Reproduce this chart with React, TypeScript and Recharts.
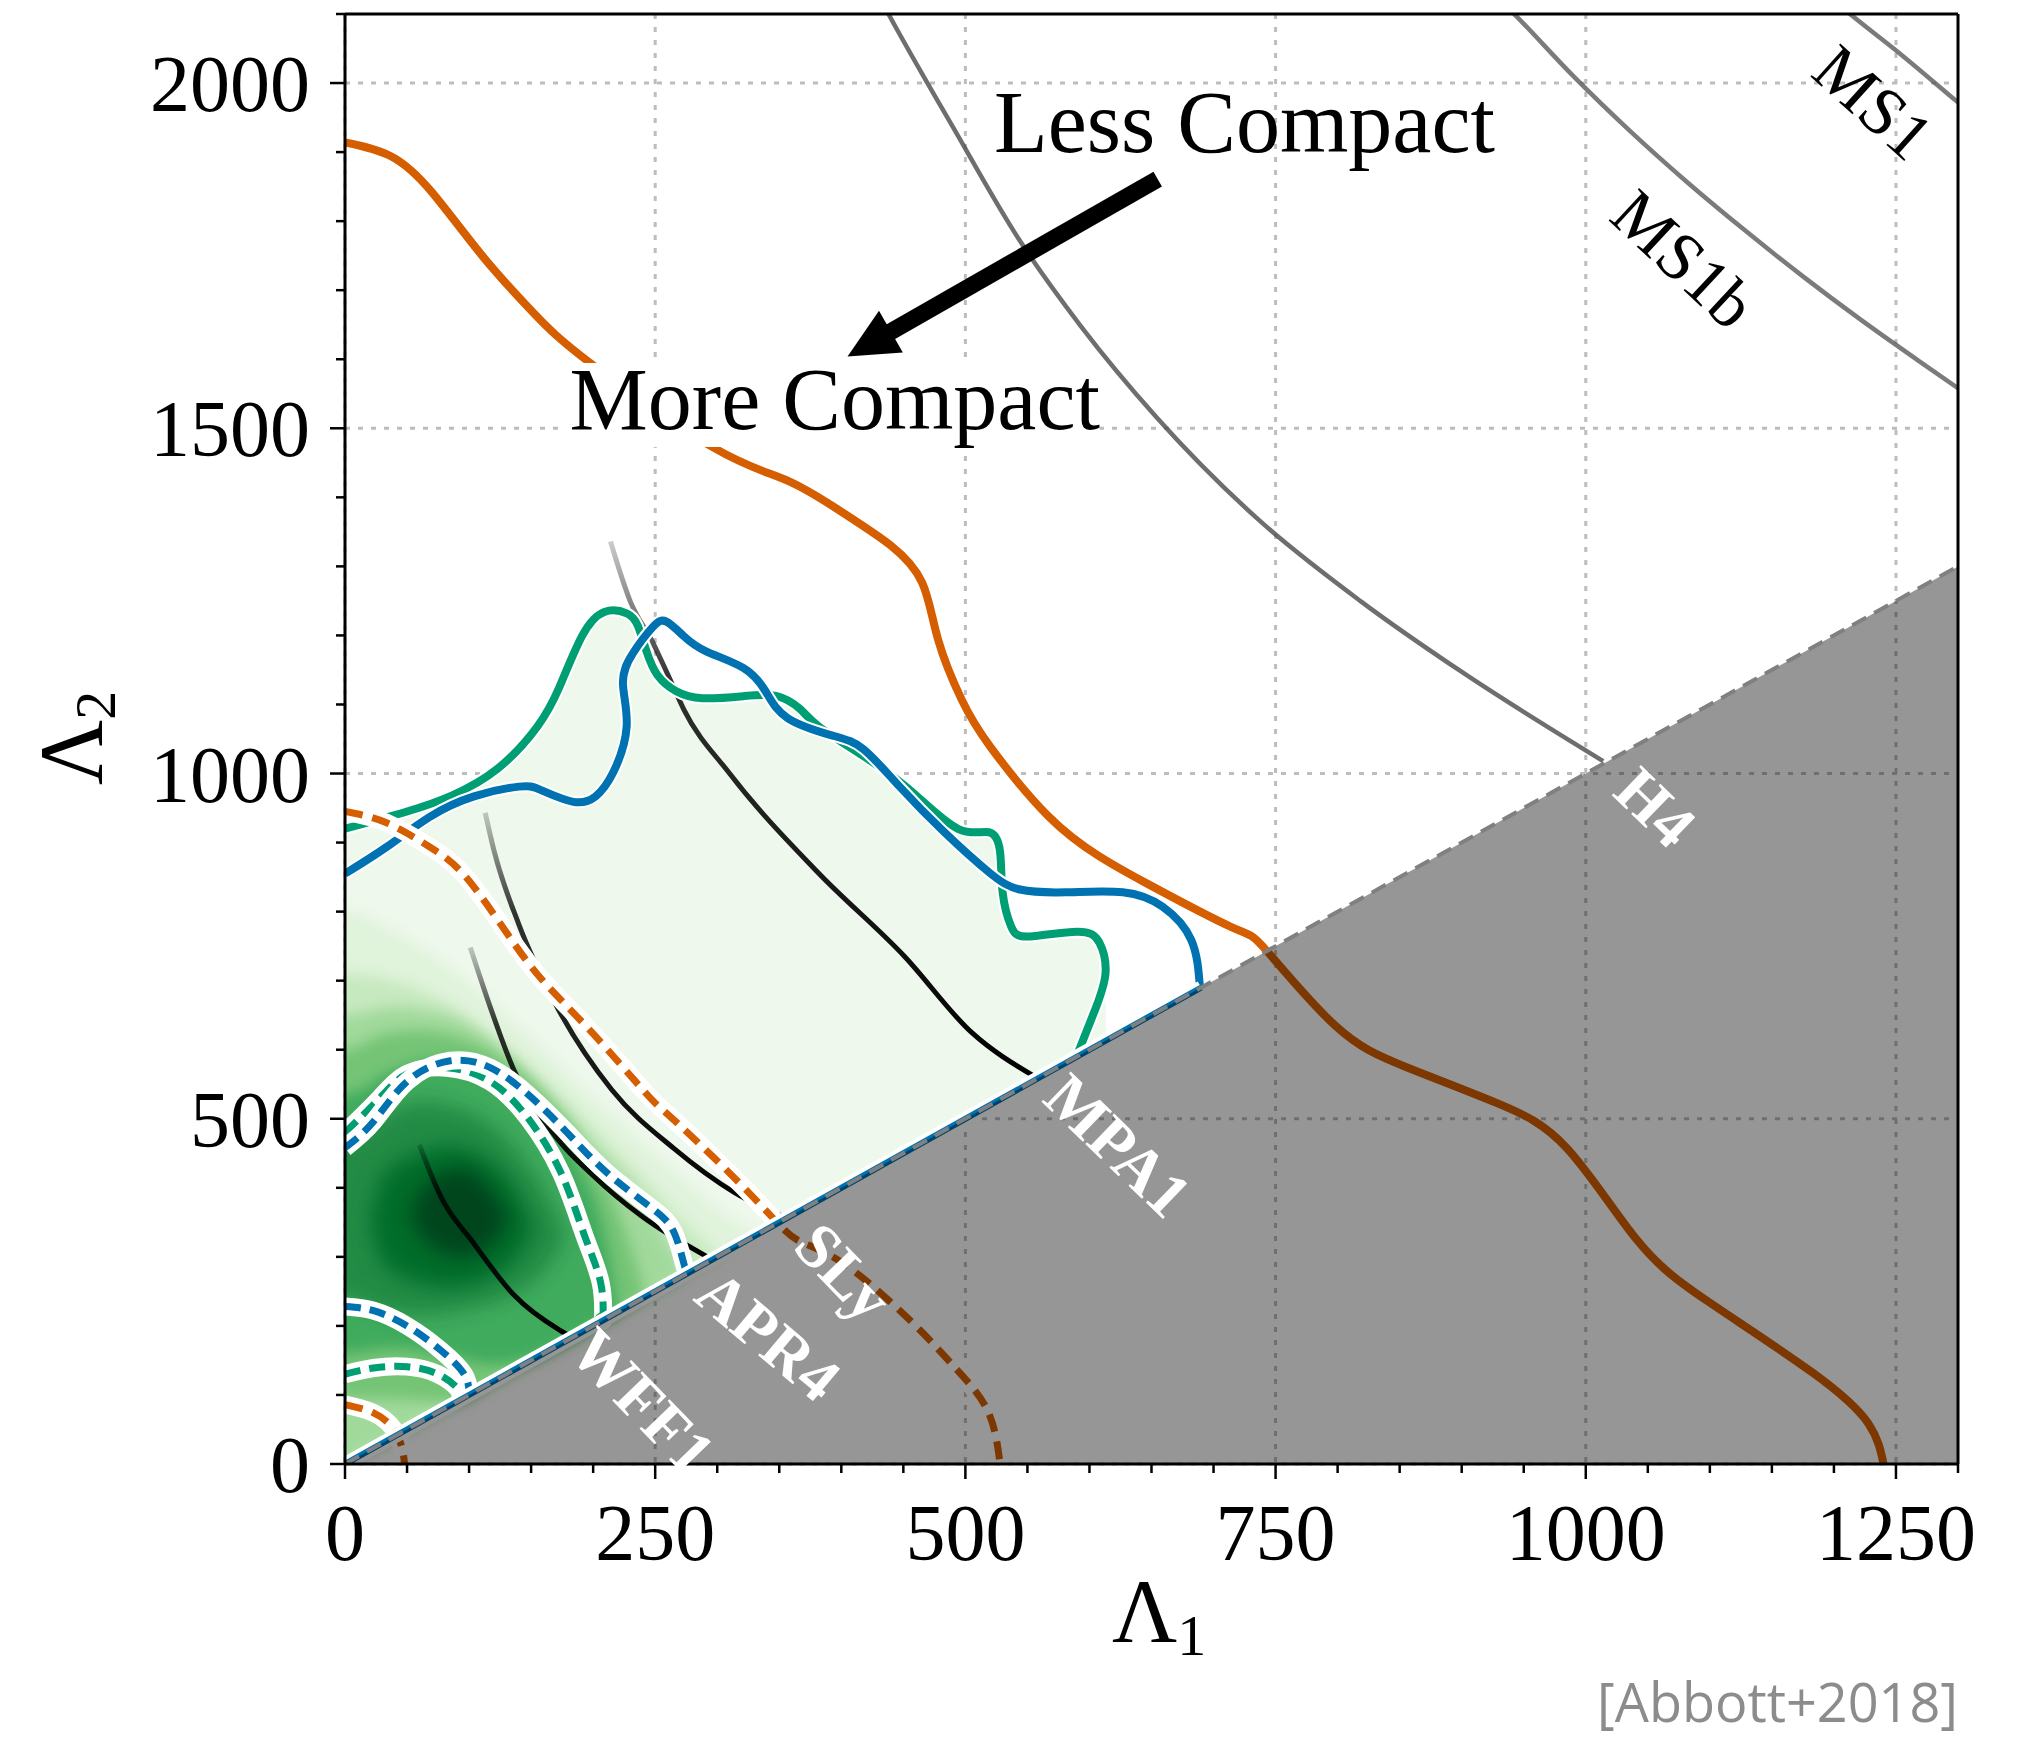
import React from 'react';
import {
  ComposedChart,
  Area,
  Line,
  XAxis,
  YAxis,
  CartesianGrid,
  ReferenceDot,
  ReferenceLine,
} from 'recharts';

type Pt = [number, number];
type Band = [number, number, number];

const W = 2025;
const H = 1740;
const SERIF = '"Liberation Serif", "Times New Roman", serif';

const ORANGE = '#D55E00';
const BLUE = '#0072B2';
const GREEN = '#009E73';

// axis ticks
const xTicks = [0, 250, 500, 750, 1000, 1250];
const yTicks = [0, 500, 1000, 1500, 2000];
const xMinorTicks = [0, 50, 100, 150, 200, 250, 300, 350, 400, 450, 500, 550, 600, 650, 700, 750, 800, 850, 900, 950, 1000, 1050, 1100, 1150, 1200, 1250, 1300];
const yMinorTicks = [0, 100, 200, 300, 400, 500, 600, 700, 800, 900, 1000, 1100, 1200, 1300, 1400, 1500, 1600, 1700, 1800, 1900, 2000, 2100];

// 90% contours (solid)
const orangeOuter: Pt[] = [
  [0, 1914], [37, 1894], [70, 1842], [111, 1749], [152, 1667], [198, 1594], [297, 1472],
  [358, 1423], [407, 1371], [440, 1330], [465, 1277], [478, 1194], [497, 1107], [520, 1039],
  [567, 938], [608, 880], [645, 842], [714, 778], [742, 745], [798, 635], [855, 575],
  [928, 523], [985, 457], [1041, 325], [1098, 236], [1183, 132], [1228, 58], [1240, 0],
];
const greenOuter: Pt[] = [
  [0, 920], [50, 945], [86, 968], [123, 1007], [155, 1068], [173, 1126], [191, 1199],
  [209, 1234], [227, 1232], [236, 1214], [243, 1177], [252, 1142], [267, 1119], [288, 1109],
  [321, 1112], [348, 1112], [367, 1093], [382, 1068], [418, 1025], [456, 975], [494, 920],
  [519, 915], [528, 886], [530, 828], [537, 778], [552, 764], [590, 771], [608, 755],
  [613, 712], [605, 660], [590, 592],
];
const blueOuter: Pt[] = [
  [0, 855], [33, 893], [68, 937], [104, 967], [140, 981], [158, 976], [184, 959], [202, 967],
  [216, 1001], [227, 1068], [224, 1131], [232, 1174], [248, 1212], [259, 1220], [273, 1199],
  [291, 1177], [321, 1153], [339, 1119], [357, 1080], [393, 1055], [418, 1035], [447, 981],
  [483, 915], [519, 857], [544, 832], [581, 828], [627, 828], [659, 807], [682, 759], [689, 691],
];
const blueEdge: Pt[] = [[0, 0], [690, 690]];

// 50% contours (dashed)
const orangeInner: Pt[] = [
  [0, 945], [33, 929], [68, 894], [97, 851], [130, 770], [159, 701], [199, 625], [242, 538],
  [261, 505], [305, 430], [344, 358], [366, 323], [402, 290], [456, 207], [492, 139],
  [518, 77], [528, 0],
];
const orangeSmall: Pt[] = [[0, 86], [23, 74], [39, 51], [46, 23], [48, 0]];
const blueInner: Pt[] = [
  [0, 458], [23, 496], [50, 554], [85, 584], [117, 574], [147, 536], [179, 480], [211, 422],
  [247, 371], [265, 336], [273, 291], [276, 276],
];
const greenInner: Pt[] = [
  [0, 480], [28, 530], [50, 565], [82, 574], [117, 554], [147, 502], [174, 422], [193, 331],
  [206, 263], [208, 215], [208, 208],
];
const blueSmall: Pt[] = [[0, 228], [23, 222], [50, 200], [77, 165], [96, 130], [100, 103]];
const greenSmall: Pt[] = [[0, 130], [23, 139], [50, 141], [75, 130], [91, 109], [93, 95]];

// EOS curves
const ms1: Pt[] = [[1180, 2150], [1215, 2097], [1255, 2040], [1300, 1972], [1360, 1885]];
const ms1b: Pt[] = [
  [920, 2140], [944, 2097], [990, 2010], [1036, 1930], [1082, 1856], [1128, 1787],
  [1175, 1720], [1221, 1658], [1268, 1598], [1300, 1558], [1360, 1486],
];
const h4: Pt[] = [
  [426, 2140], [438, 2100], [490, 1936], [543, 1774], [593, 1648], [654, 1516], [736, 1368],
  [819, 1249], [901, 1146], [1014, 1018],
];
const mpa1: Pt[] = [
  [214, 1336], [230, 1249], [248, 1190], [262, 1136], [273, 1093], [310, 1000], [381, 857],
  [451, 735], [505, 625], [555, 562],
];
const sly: Pt[] = [[113, 943], [120, 889], [140, 782], [168, 672], [215, 542], [265, 457], [314, 393], [355, 357]];
const apr4: Pt[] = [[101, 748], [117, 662], [136, 571], [163, 490], [201, 416], [239, 359], [292, 300]];
const wff1: Pt[] = [[60, 462], [77, 388], [104, 319], [136, 245], [173, 194], [183, 184]];

// posterior density levels: [Λ1, low, high] (first row sits just left of the frame)
const level2: Band[] = [
  [-40, -40, 800], [0, 0, 800], [40, 40, 770], [80, 80, 725], [120, 120, 665], [160, 160, 600],
  [200, 200, 530], [240, 240, 465], [280, 280, 400], [320, 320, 345], [335, 335, 335],
];
const level3: Band[] = [
  [-40, -40, 710], [0, 0, 710], [40, 40, 700], [80, 80, 670], [120, 120, 618], [160, 160, 558],
  [200, 200, 488], [240, 240, 415], [280, 280, 338], [302, 302, 302],
];
const level4: Band[] = [
  [-40, -40, 650], [0, 0, 650], [40, 40, 662], [80, 80, 652], [120, 120, 610], [160, 160, 540],
  [200, 200, 462], [240, 240, 382], [265, 265, 305], [274, 274, 274],
];
const level5: Band[] = [
  [-40, 95, 600], [0, 95, 600], [30, 95, 622], [60, 92, 628], [90, 90, 620], [120, 120, 595],
  [160, 160, 535], [190, 190, 468], [215, 215, 388], [232, 232, 305], [242, 242, 242],
];
const level6: Band[] = [
  [-40, 160, 535], [0, 160, 535], [40, 168, 570], [80, 158, 586], [120, 145, 566],
  [160, 160, 505], [190, 190, 425], [210, 210, 325], [220, 220, 220],
];
const level7: Band[] = [
  [-40, 240, 470], [0, 240, 470], [30, 220, 505], [60, 215, 525], [100, 225, 510],
  [140, 250, 450], [165, 290, 380], [178, 330, 330],
];
const level8: Band[] = [
  [20, 350, 350], [30, 292, 415], [55, 265, 448], [85, 255, 460], [115, 268, 440],
  [138, 298, 395], [152, 340, 340],
];
const level9: Band[] = [[52, 362, 362], [68, 318, 410], [95, 300, 428], [116, 315, 400], [132, 356, 356]];

// excluded region boundary Λ2 = Λ1
const boundary: Pt[] = [[0, 0], [1300, 1300]];

// annotations
const arrowFrom: Pt = [655, 1861];
const arrowTo: Pt = [405, 1604];
const lessAt: Pt = [523, 1900];
const moreAt: Pt = [181, 1499];
const eosLabels: { name: string; at: Pt; angle: number; white: boolean }[] = [
  { name: 'MS1', at: [1232, 1972], angle: 42, white: false },
  { name: 'MS1b', at: [1079, 1745], angle: 43, white: false },
  { name: 'H4', at: [1056, 951], angle: 44, white: true },
  { name: 'MPA1', at: [623, 461], angle: 44, white: true },
  { name: 'SLy', at: [402, 278], angle: 46, white: true },
  { name: 'APR4', at: [341, 186], angle: 40, white: true },
  { name: 'WFF1', at: [240, 91], angle: 46, white: true },
];

const rows = (pts: Pt[]) => pts.map(([x, y]) => ({ x, y }));
const bands = (b: Band[]) => b.map(([x, lo, hi]) => ({ x, band: [lo, hi] }));
const paleFill = greenOuter.slice(0, 29).map(([x, y]) => ({ x, band: [x, y] }));
const greyFill = boundary.map(([x, y]) => ({ x, band: [0, y] }));
const diagRows = rows(blueEdge);

const common = { isAnimationActive: false, dot: false, activeDot: false, legendType: 'none' as const };

function densityArea(key: string, data: any[], fill: string, blur: string | null) {
  return (
    <Area
      key={key}
      data={data}
      dataKey="band"
      type="monotone"
      stroke="none"
      fill={fill}
      fillOpacity={1}
      filter={blur ? `url(#${blur})` : undefined}
      zIndex={100}
      {...common}
    />
  );
}

function contour(key: string, pts: Pt[], color: string, dashed: string | null, halo: number) {
  const d = rows(pts);
  const out = [];
  if (halo > 0) {
    out.push(
      <Line key={key + '-h'} data={d} dataKey="y" type="natural" stroke="#fff" strokeWidth={halo} zIndex={300} {...common} />,
    );
  }
  out.push(
    <Line
      key={key}
      data={d}
      dataKey="y"
      type="natural"
      stroke={color}
      strokeWidth={dashed ? 7 : 8}
      strokeDasharray={dashed ?? undefined}
      zIndex={300}
      {...common}
    />,
  );
  return out;
}

function eosLine(key: string, pts: Pt[], stroke: string, width: number, opacity = 1) {
  return (
    <Line
      key={key}
      data={rows(pts)}
      dataKey="y"
      type="monotone"
      stroke={stroke}
      strokeWidth={width}
      strokeOpacity={opacity}
      zIndex={200}
      {...common}
    />
  );
}

function Arrow(p: any) {
  const { x1, y1, x2, y2 } = p;
  const len = Math.hypot(x2 - x1, y2 - y1);
  const ux = (x2 - x1) / len;
  const uy = (y2 - y1) / len;
  const head = 50;
  const half = 24;
  const bx = x2 - ux * head;
  const by = y2 - uy * head;
  return (
    <g>
      <line x1={x1} y1={y1} x2={bx + ux * 4} y2={by + uy * 4} stroke="#000" strokeWidth={17} />
      <polygon
        points={`${x2},${y2} ${bx - uy * half},${by + ux * half} ${bx + uy * half},${by - ux * half}`}
        fill="#000"
      />
    </g>
  );
}

function XTick(p: any) {
  const { x, y, payload } = p;
  const major = xTicks.includes(payload.value);
  return (
    <g>
      <line x1={x} x2={x} y1={y} y2={y + (major ? 15 : 9)} stroke="#000" strokeWidth={2.5} />
      {major && (
        <text x={x} y={y + 39} dy="0.71em" textAnchor="middle" fontFamily={SERIF} fontSize={80} fill="#000">
          {payload.value}
        </text>
      )}
    </g>
  );
}

function YTick(p: any) {
  const { x, y, payload } = p;
  const major = yTicks.includes(payload.value);
  return (
    <g>
      <line x1={x} x2={x - (major ? 15 : 9)} y1={y} y2={y} stroke="#000" strokeWidth={2.5} />
      {major && (
        <text x={x - 35} y={y} dy="0.35em" textAnchor="end" fontFamily={SERIF} fontSize={80} fill="#000">
          {payload.value}
        </text>
      )}
    </g>
  );
}

export default function App() {
  return (
    <div style={{ position: 'absolute', left: 0, top: 0, width: W, height: H, background: '#fff' }}>
      <ComposedChart width={W} height={H} margin={{ top: 12, right: 65, bottom: 216, left: 285 }}>
        <defs>
          <filter id="soft" x="-20%" y="-20%" width="140%" height="140%">
            <feGaussianBlur stdDeviation="10" />
          </filter>
          <filter id="soft2" x="-10%" y="-10%" width="120%" height="120%">
            <feGaussianBlur stdDeviation="7" />
          </filter>
          <linearGradient id="fade" x1="0" y1="0" x2="0" y2="1">
            <stop offset="0" stopColor="#000" stopOpacity={0.2} />
            <stop offset="0.25" stopColor="#000" stopOpacity={0.8} />
            <stop offset="1" stopColor="#000" stopOpacity={1} />
          </linearGradient>
        </defs>
        <CartesianGrid
          stroke="#bdbdbd"
          strokeWidth={3}
          strokeDasharray="5 8"
          verticalValues={xTicks}
          horizontalValues={yTicks}
        />
        <XAxis
          type="number"
          dataKey="x"
          domain={[0, 1300]}
          ticks={xMinorTicks}
          allowDataOverflow
          height={60}
          interval={0}
          tick={(p: any) => <XTick {...p} />}
          tickSize={0}
          tickMargin={0}
          tickLine={false}
          axisLine={{ stroke: '#000', strokeWidth: 3 }}
        />
        <XAxis
          xAxisId="top"
          orientation="top"
          type="number"
          dataKey="x"
          domain={[0, 1300]}
          height={2}
          tick={false}
          tickLine={false}
          axisLine={{ stroke: '#000', strokeWidth: 3 }}
        />
        <YAxis
          type="number"
          domain={[0, 2100]}
          ticks={yMinorTicks}
          allowDataOverflow
          width={60}
          interval={0}
          tick={(p: any) => <YTick {...p} />}
          tickSize={0}
          tickMargin={0}
          tickLine={false}
          axisLine={{ stroke: '#000', strokeWidth: 3 }}
        />
        <YAxis
          yAxisId="right"
          orientation="right"
          type="number"
          domain={[0, 2100]}
          width={2}
          tick={false}
          tickLine={false}
          axisLine={{ stroke: '#000', strokeWidth: 3 }}
        />

        {densityArea('d1', paleFill, '#eef8ec', null)}
        {densityArea('d2', bands(level2), '#e0f3db', 'soft2')}
        {densityArea('d3', bands(level3), '#c7e9c0', 'soft2')}
        {densityArea('d4', bands(level4), '#a1d99b', 'soft2')}
        {densityArea('d5', bands(level5), '#74c476', 'soft2')}
        {densityArea('d6', bands(level6), '#41ab5d', 'soft2')}
        {densityArea('d7', bands(level7), '#238b45', 'soft')}
        {densityArea('d8', bands(level8), '#006d2c', 'soft')}
        {densityArea('d9', bands(level9), '#00441b', 'soft')}

        {eosLine('ms1', ms1, '#5a5a5a', 4.5, 0.8)}
        {eosLine('ms1b', ms1b, '#5a5a5a', 4.5, 0.8)}
        {eosLine('h4', h4, '#4a4a4a', 4.5, 0.8)}
        {eosLine('mpa1', mpa1, 'url(#fade) #111', 5)}
        {eosLine('sly', sly, 'url(#fade) #111', 5)}
        {eosLine('apr4', apr4, 'url(#fade) #111', 5)}
        {eosLine('wff1', wff1, 'url(#fade) #111', 5)}

        {contour('go', greenOuter, GREEN, null, 12)}
        {contour('bo', blueOuter, BLUE, null, 12)}
        {contour('oo', orangeOuter, ORANGE, null, 0)}
        {contour('oi', orangeInner, ORANGE, '18 10', 18)}
        {contour('os', orangeSmall, ORANGE, '18 10', 18)}
        {contour('gi', greenInner, GREEN, '16 9', 18)}
        {contour('bi', blueInner, BLUE, '16 9', 18)}
        {contour('gs', greenSmall, GREEN, '16 9', 18)}
        {contour('bs', blueSmall, BLUE, '16 9', 18)}
        <Line data={diagRows} dataKey="y" type="linear" stroke="#fff" strokeWidth={14} zIndex={320} {...common} />
        <Line data={diagRows} dataKey="y" type="linear" stroke={BLUE} strokeWidth={6} zIndex={320} {...common} />

        <Area
          data={greyFill}
          dataKey="band"
          type="linear"
          stroke="none"
          fill="#000"
          fillOpacity={0.41}
          zIndex={350}
          {...common}
        />
        <Line
          data={rows(boundary)}
          dataKey="y"
          type="linear"
          stroke="#808080"
          strokeWidth={4}
          strokeDasharray="16 9"
          zIndex={360}
          {...common}
        />

        {eosLabels.map((l) => (
          <ReferenceDot
            key={l.name}
            x={l.at[0]}
            y={l.at[1]}
            r={0}
            zIndex={700}
            shape={(p: any) => (
              <text
                x={p.cx}
                y={p.cy}
                transform={`rotate(${l.angle} ${p.cx} ${p.cy})`}
                textAnchor="middle"
                dominantBaseline="central"
                fontFamily={SERIF}
                fontSize={l.white ? 64 : 68}
                fontWeight={l.white ? 700 : 400}
                fill={l.white ? '#fff' : '#000'}
              >
                {l.name}
              </text>
            )}
          />
        ))}
        <ReferenceDot
          x={lessAt[0]}
          y={lessAt[1]}
          r={0}
          zIndex={700}
          shape={(p: any) => (
            <text x={p.cx} y={p.cy} fontFamily={SERIF} fontSize={88} fill="#000">
              Less Compact
            </text>
          )}
        />
        <ReferenceDot
          x={moreAt[0]}
          y={moreAt[1]}
          r={0}
          zIndex={700}
          shape={(p: any) => (
            <g>
              <rect x={p.cx - 4} y={p.cy - 66} width={534} height={84} fill="#fff" />
              <text x={p.cx} y={p.cy} fontFamily={SERIF} fontSize={88} fill="#000">
                More Compact
              </text>
            </g>
          )}
        />
        <ReferenceLine
          segment={[
            { x: arrowFrom[0], y: arrowFrom[1] },
            { x: arrowTo[0], y: arrowTo[1] },
          ]}
          zIndex={700}
          shape={(p: any) => <Arrow {...p} />}
        />
      </ComposedChart>
      <svg
        width={W}
        height={H}
        style={{ position: 'absolute', left: 0, top: 0, pointerEvents: 'none' }}
      >
        <text x={1112} y={1642} fontFamily={SERIF} fontSize={90} fill="#000">
          Λ<tspan dy={13} fontSize={58}>1</tspan>
        </text>
        <text transform="translate(102,785) rotate(-90)" fontFamily={SERIF} fontSize={90} fill="#000">
          Λ<tspan dy={13} fontSize={58}>2</tspan>
        </text>
        <text
          x={1958}
          y={1722}
          textAnchor="end"
          fontFamily='"Open Sans", "Noto Sans", sans-serif'
          fontSize={54}
          fill="#8c8c8c"
        >
          [Abbott+2018]
        </text>
      </svg>
    </div>
  );
}
